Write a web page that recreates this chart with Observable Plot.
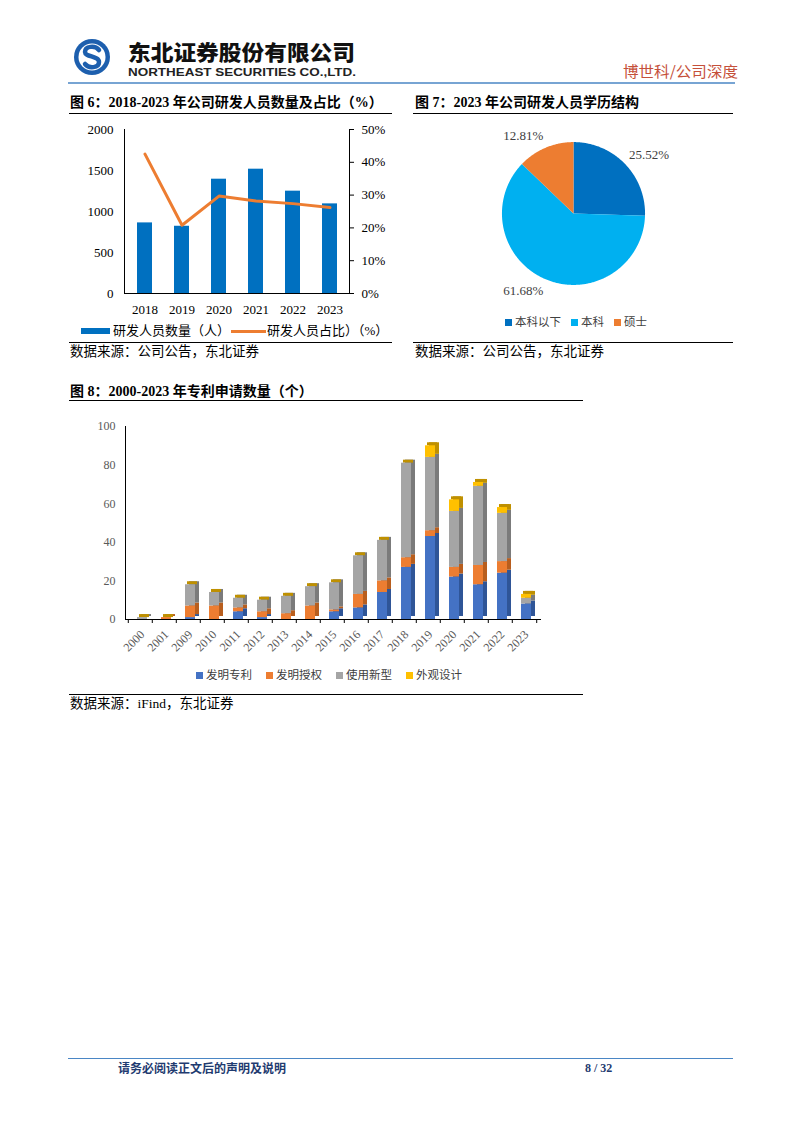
<!DOCTYPE html>
<html><head><meta charset="utf-8">
<script src="https://cdn.jsdelivr.net/npm/d3@7"></script>
<script src="https://cdn.jsdelivr.net/npm/@observablehq/plot@0.6"></script>
<style>
html,body{margin:0;padding:0;background:#fff;}
#page{position:relative;width:802px;height:1133px;background:#fff;overflow:hidden;
  font-family:"Liberation Serif","Noto Sans CJK SC",serif;color:#000;}
.abs{position:absolute;white-space:nowrap;}
.title{font-weight:bold;font-size:14px;line-height:16px;}
.src{font-size:13.5px;line-height:16px;}
.rule{position:absolute;height:0;border-top:1.2px solid #000;}
.leg{display:flex;align-items:center;font-size:11.5px;line-height:14px;color:#404040;}
.sw{display:inline-block;width:7px;height:7px;margin-right:3px;}
</style></head>
<body><div id="page">
  <svg class="abs" style="left:0;top:0" width="802" height="100">
    <circle cx="92" cy="57" r="18" fill="#1d5fae"/>
    <circle cx="92" cy="57" r="13.5" fill="#fff"/>
    <path d="M99 50 C95 45 85 46 85 52 C85 57 99 56 99 62 C99 68 89 69 85 64" fill="none" stroke="#1d5fae" stroke-width="4.5" stroke-linecap="round"/>
    <text x="128" y="59.5" font-family="Noto Sans CJK SC" font-weight="900" font-size="21" fill="#111" textLength="227" lengthAdjust="spacingAndGlyphs">东北证券股份有限公司</text>
    <text x="128" y="76" font-family="Liberation Sans" font-weight="bold" font-size="10" fill="#222" textLength="228" lengthAdjust="spacingAndGlyphs">NORTHEAST SECURITIES CO.,LTD.</text>
    <text x="623" y="77" font-family="Noto Sans CJK SC" font-size="15" fill="#c5503a" textLength="115" lengthAdjust="spacingAndGlyphs">博世科/公司深度</text>
    <line x1="68" x2="735" y1="83" y2="83" stroke="#4a86c5" stroke-width="1.5"/>
  </svg>

  <div class="abs title" style="left:70px;top:95px;">图 6：2018-2023 年公司研发人员数量及占比（%）</div>
  <div class="rule" style="left:69px;top:113px;width:323px;"></div>
  <div class="abs title" style="left:415px;top:95px;">图 7：2023 年公司研发人员学历结构</div>
  <div class="rule" style="left:413px;top:113px;width:320px;"></div>

  <div id="c6" class="abs" style="left:60px;top:120px;"></div>
  <div class="abs" style="left:81px;top:323px;display:flex;align-items:center;font-size:13px;line-height:16px;">
    <span style="display:inline-block;width:29px;height:6px;background:#0070C0;margin-right:3px;"></span>研发人员数量（人）
    <span style="display:inline-block;width:35px;height:3px;background:#ED7D31;margin:0 1px 0 1px;"></span>研发人员占比）（%）
  </div>
  <div class="rule" style="left:69px;top:342px;width:323px;"></div>
  <div class="abs src" style="left:70px;top:344px;">数据来源：公司公告，东北证券</div>

  <div id="c7" class="abs" style="left:480px;top:128px;"></div>
  <div id="leg7" class="abs leg" style="left:505px;top:315px;"></div>
  <div class="rule" style="left:413px;top:342px;width:320px;"></div>
  <div class="abs src" style="left:415px;top:344px;">数据来源：公司公告，东北证券</div>

  <div class="abs title" style="left:70px;top:384px;">图 8：2000-2023 年专利申请数量（个）</div>
  <div class="rule" style="left:69px;top:400px;width:514px;"></div>
  <div id="c8" class="abs" style="left:60px;top:415px;"></div>
  <div id="leg8" class="abs leg" style="left:196px;top:668px;"></div>
  <div class="rule" style="left:69px;top:694px;width:514px;"></div>
  <div class="abs src" style="left:70px;top:696px;">数据来源：iFind，东北证券</div>

  <div class="abs" style="left:68px;top:1058px;width:665px;height:0;border-top:1.2px solid #4a86c5;"></div>
  <div class="abs" style="left:118px;top:1061px;font-size:12px;line-height:14px;font-weight:bold;color:#1f3b70;font-family:'Noto Sans CJK SC';">请务必阅读正文后的声明及说明</div>
  <div class="abs" style="left:585px;top:1061px;font-size:12px;line-height:14px;font-weight:bold;color:#1f3b70;">8 / 32</div>
</div>
<script>
// ---------- Figure 6 data ----------
const staffYears = ["2018", "2019", "2020", "2021", "2022", "2023"];
const staffCount = [861, 820, 1394, 1516, 1248, 1093];
const staffShare = [42.5, 20.8, 29.7, 28.2, 27.4, 26.2];
const staffLeftTicks = [0, 500, 1000, 1500, 2000];
const staffRightTicks = [0, 10, 20, 30, 40, 50];

// ---------- Figure 7 data ----------
const eduLabels = ["本科以下", "本科", "硕士"];
const eduShare = [25.52, 61.68, 12.81];
const eduColors = ["#0070C0", "#00B0F0", "#ED7D31"];

// ---------- Figure 8 data ----------
const patentYears = ["2000","2001","2009","2010","2011","2012","2013","2014","2015","2016","2017","2018","2019","2020","2021","2022","2023"];
const patentSeries = ["发明专利", "发明授权", "使用新型", "外观设计"];
const invention      = [0, 0, 1, 0, 4, 1, 0, 0, 4,  6, 14, 27, 43, 22, 18, 24, 8];
const inventionGrant = [0, 1, 6, 7, 2, 3, 3, 7, 1,  7,  6,  5,  3,  5, 10,  6, 0];
const utilityModel   = [1, 0, 11, 7, 5, 6, 9, 10, 14, 20, 21, 49, 38, 29, 41, 25, 3];
const designPatent   = [0, 0, 0, 0, 0, 0, 0, 0, 0,  0,  0,  0,  6,  6,  2,  3, 2];
const patentTicks = [0, 20, 40, 60, 80, 100];
const patentColors = ["#4472C4", "#ED7D31", "#A5A5A5", "#FFC000"];
const patentSide   = ["#2F5597", "#B85E1E", "#7B7B7B", "#BF9000"];

const serif = "'Liberation Serif','Noto Sans CJK SC',serif";

// ---------- Figure 6 ----------
{
  const rows = staffYears.map((y, i) => ({year: y, count: staffCount[i], share: staffShare[i]}));
  const k = 2000 / 50;
  const c6 = Plot.plot({
    width: 340, height: 200, marginLeft: 64, marginRight: 51, marginTop: 9, marginBottom: 27,
    style: {fontFamily: serif, fontSize: "13px", color: "#000", background: "transparent", overflow: "visible"},
    x: {domain: staffYears, paddingInner: 0.6, paddingOuter: 0.3, axis: null},
    y: {domain: [0, 2000], axis: null},
    marks: [
      Plot.barY(rows, {x: "year", y: "count", fill: "#0070C0"}),
      Plot.line(rows, {x: "year", y: d => d.share * k, stroke: "#ED7D31", strokeWidth: 3}),
      Plot.axisY({ticks: staffLeftTicks, tickSize: 0, tickPadding: 11, label: null, tickFormat: d => String(d)}),
      Plot.axisY({anchor: "right", ticks: staffRightTicks.map(v => v * k), tickSize: 4, tickPadding: 8, label: null, tickFormat: d => (d / k) + "%"}),
      Plot.axisX({tickSize: 0, tickPadding: 11, label: null}),
      Plot.frame({anchor: "left", stroke: "#000"}),
      Plot.frame({anchor: "right", stroke: "#000"}),
      Plot.frame({anchor: "bottom", stroke: "#000"})
    ]
  });
  document.getElementById("c6").appendChild(c6);
}

// ---------- Figure 7 ----------
{
  const total = d3.sum(eduShare);
  let acc = 0;
  const slices = eduShare.map((v, i) => {
    const a0 = acc / total * 2 * Math.PI; acc += v;
    const a1 = acc / total * 2 * Math.PI;
    return {label: eduLabels[i], value: v, a0, a1, mid: (a0 + a1) / 2};
  });
  const pts = slices.flatMap(s => {
    const n = Math.max(4, Math.ceil((s.a1 - s.a0) / 0.01));
    const out = [{x: 0, y: 0, label: s.label}];
    for (let j = 0; j <= n; j++) {
      const a = s.a0 + (s.a1 - s.a0) * j / n;
      out.push({x: Math.sin(a), y: Math.cos(a), label: s.label});
    }
    out.push({x: 0, y: 0, label: s.label});
    return out;
  });
  const lx = s => 1.08 * Math.sin(s.mid), ly = s => 1.178 * Math.cos(s.mid);
  const fmt = s => s.value.toFixed(2) + "%";
  const c7 = Plot.plot({
    width: 186, height: 170, margin: 0,
    style: {fontFamily: serif, fontSize: "13px", background: "transparent", overflow: "visible"},
    x: {domain: [-1.3, 1.3], axis: null},
    y: {domain: [-1.19, 1.19], axis: null},
    color: {domain: eduLabels, range: eduColors},
    marks: [
      Plot.line(pts, {x: "x", y: "y", z: "label", fill: "label", stroke: "none"}),
      Plot.text(slices.filter(s => Math.sin(s.mid) >= 0), {x: lx, y: ly, text: fmt, textAnchor: "start", fill: "#404040"}),
      Plot.text(slices.filter(s => Math.sin(s.mid) < 0), {x: lx, y: ly, text: fmt, textAnchor: "end", fill: "#404040"})
    ]
  });
  document.getElementById("c7").appendChild(c7);
  const leg = document.getElementById("leg7");
  leg.innerHTML = eduLabels.map((l, i) =>
    `<span class="sw" style="background:${eduColors[i]}"></span><span style="margin-right:${i < 2 ? 10 : 0}px">${l}</span>`).join("");
}

// ---------- Figure 8 ----------
{
  const seriesArrays = [invention, inventionGrant, utilityModel, designPatent];
  const rows = [];
  patentYears.forEach((y, i) => {
    let base = 0;
    seriesArrays.forEach((arr, s) => {
      rows.push({year: y, series: patentSeries[s], si: s, y1: base, y2: base + arr[i]});
      base += arr[i];
    });
  });
  const totals = patentYears.map((y, i) => ({year: y, total: d3.sum(seriesArrays, a => a[i])}));
  const W = 500, ML = 65, MR = 20;
  const step = (W - ML - MR) / patentYears.length;
  const front = [], side = [];
  patentSeries.forEach((s, si) => {
    const r = rows.filter(d => d.si === si && d.y2 > d.y1);
    side.push(Plot.barY(r, {x: "year", y1: "y1", y2: "y2", fill: patentSide[si], dx: 6, dy: -3}));
    front.push(Plot.barY(r, {x: "year", y1: "y1", y2: "y2", fill: patentColors[si], dx: 2}));
  });
  const c8 = Plot.plot({
    width: W, height: 245, marginLeft: ML, marginRight: MR, marginTop: 11, marginBottom: 41,
    style: {fontFamily: serif, fontSize: "12px", color: "#595959", background: "transparent", overflow: "visible"},
    x: {domain: patentYears, paddingInner: 0.58, paddingOuter: 0.29, axis: null},
    y: {domain: [0, 100], axis: null},
    marks: [
      ...side,
      Plot.barY(totals, {x: "year", y1: "total", y2: "total", insetTop: -3, dx: 4, fill: "#BF9000"}),
      ...front,
      Plot.axisY({ticks: patentTicks, tickSize: 0, tickPadding: 10, label: null, fill: "#595959"}),
      Plot.axisX({tickSize: 4, tickFormat: () => "", dx: -step / 2, label: null, stroke: "#000"}),
      Plot.axisX({ticks: [patentYears[patentYears.length - 1]], tickSize: 4, tickFormat: () => "", dx: step / 2, label: null, stroke: "#000"}),
      Plot.axisX({tickSize: 0, tickRotate: -45, tickPadding: 13, dx: 2, label: null, fontSize: 12, fill: "#595959"}),
      Plot.frame({anchor: "left", stroke: "#000"}),
      Plot.frame({anchor: "bottom", stroke: "#000"})
    ]
  });
  document.getElementById("c8").appendChild(c8);
  const leg = document.getElementById("leg8");
  leg.innerHTML = patentSeries.map((l, i) =>
    `<span class="sw" style="background:${patentColors[i]}"></span><span style="margin-right:${i < 3 ? 14 : 0}px">${l}</span>`).join("");
}
</script>
</body></html>
